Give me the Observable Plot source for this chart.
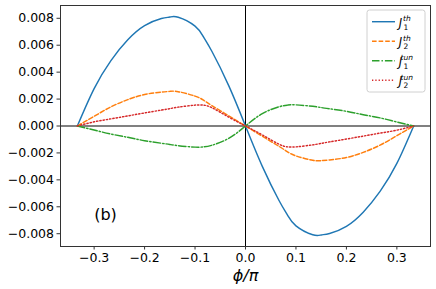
<!DOCTYPE html>
<html>
<head>
<meta charset="utf-8">
<script src="https://cdn.jsdelivr.net/npm/d3@7"></script>
<script src="https://cdn.jsdelivr.net/npm/@observablehq/plot@0.6"></script>
<style>
  html, body { margin: 0; padding: 0; background: #fff; }
  #chart svg { display: block; }
</style>
</head>
<body>
<div id="chart"></div>
<script>
// phi / pi grid
const phi = [-0.3333, -0.3, -0.2667, -0.2333, -0.2, -0.1667, -0.15, -0.1333, -0.1, -0.0833, -0.0667, -0.0333, 0,
             0.0333, 0.0667, 0.0833, 0.1, 0.1333, 0.15, 0.1667, 0.2, 0.2333, 0.2667, 0.3, 0.3333];
// values in units of 1e-3
const J1th  = [0, 2.78, 4.86, 6.40, 7.45, 7.98, 8.09, 8.08, 7.42, 6.62, 5.55, 3.00, 0,
               -3.00, -5.55, -6.62, -7.42, -8.08, -8.09, -7.98, -7.45, -6.40, -4.86, -2.78, 0];
const J2th  = [0, 0.72, 1.42, 1.96, 2.34, 2.52, 2.57, 2.55, 2.22, 1.92, 1.52, 0.76, 0,
               -0.76, -1.52, -1.92, -2.22, -2.55, -2.57, -2.52, -2.34, -1.96, -1.42, -0.72, 0];
const J1tun = [0, -0.30, -0.60, -0.84, -1.09, -1.28, -1.37, -1.46, -1.57, -1.55, -1.43, -0.92, 0,
               0.92, 1.43, 1.55, 1.57, 1.46, 1.37, 1.28, 1.09, 0.84, 0.60, 0.30, 0];
const J2tun = [0, 0.31, 0.53, 0.75, 0.97, 1.18, 1.29, 1.40, 1.55, 1.55, 1.36, 0.66, 0,
               -0.66, -1.36, -1.55, -1.55, -1.40, -1.29, -1.18, -0.97, -0.75, -0.53, -0.31, 0];

const xTicks = [-0.3, -0.2, -0.1, 0.0, 0.1, 0.2, 0.3];
const yTicks = [-0.008, -0.006, -0.004, -0.002, 0, 0.002, 0.004, 0.006, 0.008];

const seriesList = [
  {key: "J1th",  vals: J1th,  color: "#1f77b4", dash: null,          sub: "1", sup: "th"},
  {key: "J2th",  vals: J2th,  color: "#ff7f0e", dash: "4.6,2",       sub: "2", sup: "th"},
  {key: "J1tun", vals: J1tun, color: "#2ca02c", dash: "7.5,2,1.4,2", sub: "1", sup: "tun"},
  {key: "J2tun", vals: J2tun, color: "#d62728", dash: "1.3,2",       sub: "2", sup: "tun"}
];

const fmt = (d, n) => {
  const s = Math.abs(d).toFixed(n);
  return (d < 0 && Math.abs(d) > 1e-12 ? "\u2212" : "") + s;
};

const lineMarks = seriesList.map(s => {
  const rows = phi.map((p, i) => ({x: p, y: s.vals[i] * 1e-3}));
  return Plot.line(rows, {x: "x", y: "y", stroke: s.color, strokeWidth: 1.45,
    strokeDasharray: s.dash || undefined, curve: "natural"});
});

const plot = Plot.plot({
  width: 436,
  height: 289,
  marginLeft: 60,
  marginRight: 6,
  marginTop: 5,
  marginBottom: 43,
  style: {fontFamily: "DejaVu Sans", fontSize: "12.5px", color: "#000", background: "#fff"},
  x: {domain: [-0.36667, 0.36667]},
  y: {domain: [-0.00895, 0.00895]},
  marks: [
    Plot.ruleY([0], {stroke: "#808080", strokeWidth: 2}),
    Plot.ruleX([0], {stroke: "#000", strokeWidth: 1}),
    ...lineMarks,
    Plot.frame({stroke: "#333", strokeWidth: 1}),
    Plot.axisX(xTicks, {tickSize: 3.5, tickPadding: 3, stroke: "#333", fill: "#000",
      tickFormat: d => fmt(d, 1), label: null}),
    Plot.axisY(yTicks, {tickSize: 3.5, tickPadding: 3, stroke: "#333", fill: "#000",
      tickFormat: d => fmt(d, 3), label: null}),
    Plot.text(["\u03D5/\u03C0"], {frameAnchor: "bottom", dy: 34, fontSize: 16, fontStyle: "italic", fill: "#000"}),
    Plot.text([{x: -0.3, y: -0.007, t: "(b)"}], {x: "x", y: "y", text: "t", textAnchor: "start",
      lineAnchor: "bottom", fontSize: 16, fill: "#000"})
  ]
});

document.getElementById("chart").appendChild(plot);

// legend
const svg = d3.select(plot);
const lg = svg.append("g").attr("font-family", "DejaVu Sans");
lg.append("rect").attr("x", 367).attr("y", 10).attr("width", 58).attr("height", 82)
  .attr("rx", 2.5).attr("fill", "#fff").attr("fill-opacity", 0.8)
  .attr("stroke", "#d0d0d0").attr("stroke-width", 1);
const rowY = [21.7, 41.2, 60.7, 80.2];
seriesList.forEach((s, i) => {
  const y = rowY[i];
  lg.append("line").attr("x1", 372).attr("x2", 395).attr("y1", y).attr("y2", y)
    .attr("stroke", s.color).attr("stroke-width", 1.45)
    .attr("stroke-dasharray", s.dash || null);
  const t = lg.append("text").attr("x", 400.5).attr("y", y + 5).attr("font-size", 11.5)
    .attr("font-style", "italic");
  t.append("tspan").text("J");
  t.append("tspan").attr("x", 405.8).attr("y", y + 7.8).attr("font-size", 7.5)
    .attr("font-style", "normal").text(s.sub);
  t.append("tspan").attr("x", 406.8).attr("y", y - 0.6).attr("font-size", 7.5)
    .text(s.sup);
});
</script>
</body>
</html>
